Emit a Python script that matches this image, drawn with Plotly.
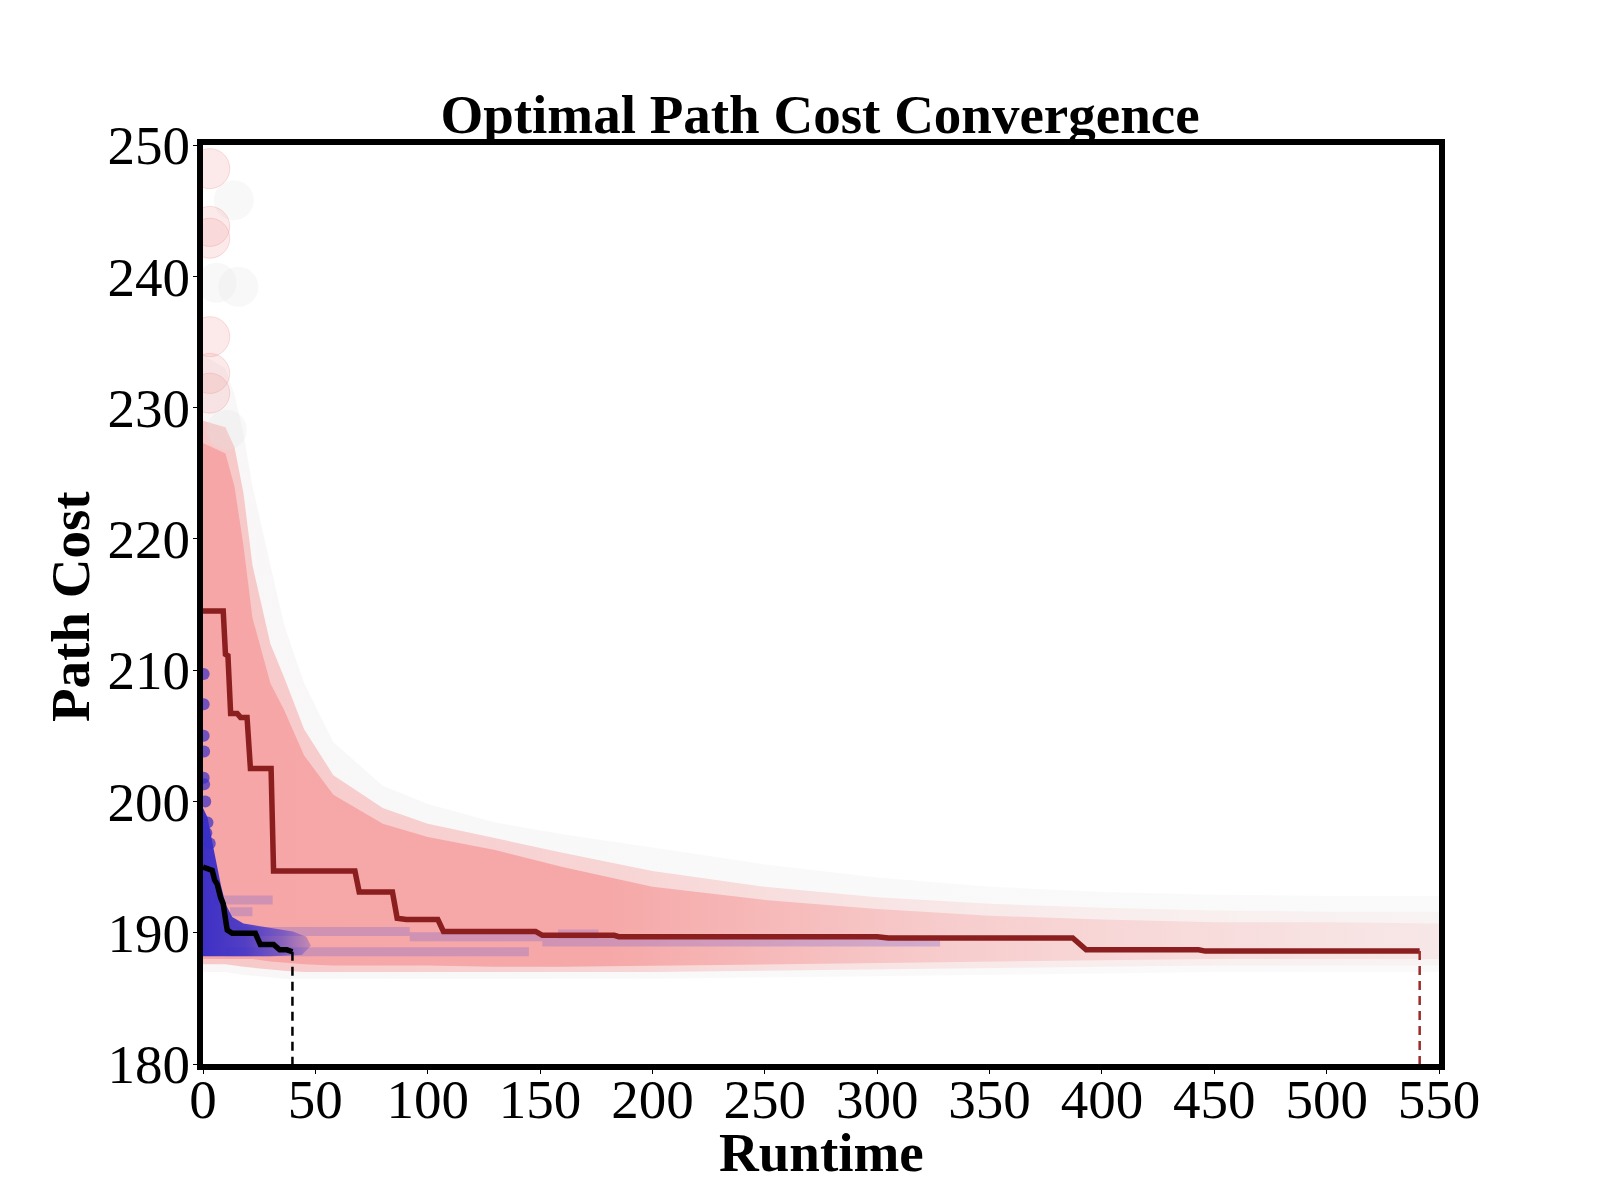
import plotly.graph_objects as go

# best-so-far path cost curves (runtime, cost)
red_best_t = [0, 9.0, 10.0, 11.1, 12.3, 15.2, 16.7, 19.6, 21.1, 30.3, 31.4, 67.6, 69.5, 84.3, 86.4, 90.5,
              104.5, 107.0, 148, 151, 183, 185, 300, 305, 387, 393, 443, 446, 541.4]
red_best_cost = [214.5, 214.5, 211.2, 211.1, 206.7, 206.7, 206.4, 206.4, 202.5, 202.5, 194.7, 194.7, 193.1,
                 193.1, 191.1, 191.0, 191.0, 190.1, 190.1, 189.8, 189.8, 189.7, 189.7, 189.6, 189.6, 188.7,
                 188.7, 188.6, 188.6]
black_best_t = [0, 2.2, 4.1, 5.2, 6.3, 7.8, 9.0, 10.3, 10.8, 13.0, 23.3, 25.5, 31.4, 34.1, 37.3, 39.8]
black_best_cost = [195.0, 194.9, 194.75, 194.0, 193.7, 192.7, 192.2, 190.7, 190.2, 189.95, 189.95, 189.1,
                   189.1, 188.7, 188.7, 188.55]

# envelope of the red sample cloud
cloud_t = [0, 10, 14, 18, 22, 30, 36, 45, 58, 80, 100, 130, 160, 200, 250, 300, 350, 400, 450, 500, 550]
core_hi = [227.3, 226.5, 224, 219.5, 214, 209, 207, 203.5, 200.5, 198.3, 197.3, 196.3, 195, 193.5, 192.5,
           191.8, 191.3, 191, 190.8, 190.8, 190.7]
core_lo = [188.0, 188.0, 188.0, 188.0, 188.0, 187.8, 187.7, 187.6, 187.5, 187.5, 187.5, 187.4, 187.4, 187.5,
           187.6, 187.7, 187.8, 187.9, 188.0, 188.0, 188.0]
mid_hi = [229, 228.5, 227, 223.5, 218, 212, 209.5, 205.5, 202, 199.5, 198.3, 197.2, 196.1, 194.7, 193.5, 192.7,
          192.2, 191.9, 191.7, 191.6, 191.6]
mid_lo = [187.6, 187.6, 187.5, 187.4, 187.3, 187.2, 187.1, 187.0, 187.0, 187.0, 187.0, 187.0, 187.0, 187.0,
          187.1, 187.2, 187.3, 187.4, 187.5, 187.5, 187.5]
halo_hi = [234, 233, 231, 228, 224, 218, 213.5, 209, 204.5, 201.2, 199.8, 198.4, 197.5, 196.5, 195.2, 194.2,
           193.5, 193.1, 192.9, 192.8, 192.8]
halo_lo = [187.0, 187.0, 186.9, 186.8, 186.7, 186.6, 186.5, 186.5, 186.5, 186.5, 186.5, 186.5, 186.5, 186.5,
           186.6, 186.7, 186.8, 186.9, 187.0, 187.0, 187.0]

# sparse early red samples
sparse_pink_t = [3, 3, 3, 3, 3, 3]
sparse_pink_c = [248.2, 243.8, 242.9, 235.4, 232.6, 231.1]
sparse_gray_t = [13.7, 15.7, 10.6, 6]
sparse_gray_c = [245.8, 239.2, 228.3, 239.5]

# blue sample cloud
blue_blob_t = [0, 2, 4, 6, 8, 10, 13, 18, 30, 40, 46, 48, 44, 30, 0]
blue_blob_c = [199.5, 198.8, 197.0, 195.2, 193.6, 192.2, 191.2, 190.7, 190.4, 190.1, 189.7, 189.0, 188.3,
               188.2, 188.2]
blue_dot_t = [0.3, 0.3, 0.3, 0.5, 0.3, 0.5, 1.0, 2.0, 1.5, 3.0]
blue_dot_c = [209.7, 207.4, 205.0, 203.8, 201.8, 201.3, 200.0, 198.4, 197.6, 196.8]
trail_cost = [192.5, 191.6, 190.1, 189.7, 189.9, 189.3, 188.55]
trail_start = [5, 12, 15, 92, 158, 151, 10]
trail_end = [31, 22, 92, 151, 176, 328, 145]

red_end = (541.4, 188.6)
black_end = (39.8, 188.55)

SERIF = 'Liberation Serif'
fig = go.Figure()


def band(t, hi, lo, scale):
    fig.add_trace(go.Scatter(
        x=t + t[::-1], y=hi + lo[::-1], mode='lines', fill='toself',
        line=dict(width=0), hoverinfo='skip', showlegend=False,
        fillgradient=dict(type='horizontal', colorscale=scale, start=0, stop=550),
    ))


band(cloud_t, halo_hi, halo_lo, [[0, 'rgba(240,236,236,0.45)'], [0.4, 'rgba(242,240,240,0.4)'],
                                 [1, 'rgba(244,244,244,0.45)']])
band(cloud_t, mid_hi, mid_lo, [[0, 'rgba(246,170,170,0.6)'], [0.35, 'rgba(246,178,178,0.5)'],
                               [0.7, 'rgba(246,205,205,0.3)'], [1, 'rgba(245,228,228,0.3)']])
band(cloud_t, core_hi, core_lo, [[0, 'rgba(246,166,166,1)'], [0.33, 'rgba(246,166,166,0.95)'],
                                 [0.6, 'rgba(246,182,182,0.55)'], [1, 'rgba(246,208,208,0.35)']])

fig.add_trace(go.Scatter(x=sparse_gray_t, y=sparse_gray_c, mode='markers', hoverinfo='skip', showlegend=False,
                         marker=dict(size=40, color='rgba(228,228,228,0.25)', line=dict(width=0))))
fig.add_trace(go.Scatter(x=sparse_pink_t, y=sparse_pink_c, mode='markers', hoverinfo='skip', showlegend=False,
                         marker=dict(size=40, color='rgba(240,150,150,0.2)',
                                     line=dict(width=1, color='rgba(235,120,120,0.25)'))))

# blue samples
for c, s, e in zip(trail_cost, trail_start, trail_end):
    fig.add_trace(go.Scatter(x=[s, e], y=[c, c], mode='lines', hoverinfo='skip', showlegend=False,
                             line=dict(width=9, color='rgba(120,100,210,0.3)')))
fig.add_trace(go.Scatter(
    x=blue_blob_t, y=blue_blob_c, mode='lines', fill='toself', line=dict(width=0),
    hoverinfo='skip', showlegend=False,
    fillgradient=dict(type='horizontal', start=0, stop=48,
                      colorscale=[[0, 'rgba(52,42,200,0.95)'], [0.4, 'rgba(55,45,200,0.85)'],
                                  [0.75, 'rgba(70,55,200,0.6)'], [1, 'rgba(100,80,200,0.35)']]),
))
fig.add_trace(go.Scatter(x=blue_dot_t, y=blue_dot_c, mode='markers', hoverinfo='skip', showlegend=False,
                         marker=dict(size=12, color='rgba(55,45,200,0.7)', line=dict(width=0))))

# best cost curves
fig.add_trace(go.Scatter(x=red_best_t, y=red_best_cost, mode='lines', showlegend=False,
                         line=dict(color='#8B1E1E', width=5.5)))
fig.add_trace(go.Scatter(x=[red_end[0], red_end[0]], y=[red_end[1], 180], mode='lines', showlegend=False,
                         line=dict(color='#9B2A2A', width=2.5, dash='9px,6px')))
fig.add_trace(go.Scatter(x=black_best_t, y=black_best_cost, mode='lines', showlegend=False,
                         line=dict(color='black', width=5.5)))
fig.add_trace(go.Scatter(x=[black_end[0], black_end[0]], y=[black_end[1], 180], mode='lines', showlegend=False,
                         line=dict(color='black', width=2.5, dash='9px,6px')))

axis_style = dict(showline=True, linewidth=6, linecolor='black', mirror=True, showgrid=False, zeroline=False,
                  ticks='outside', ticklen=4, tickwidth=1, tickcolor='black', tickangle=0,
                  tickfont=dict(family=SERIF, size=55, color='black'))

fig.update_xaxes(range=[0, 550], dtick=50, tick0=0, ticklabelstandoff=-22, **axis_style)
fig.update_yaxes(range=[180, 250], dtick=10, tick0=180, ticklabelstandoff=-8, **axis_style)

label_font = dict(family=SERIF, size=55, color='black', weight='bold')
fig.add_annotation(text='Runtime', xref='paper', yref='paper', x=0.5, y=-0.096, xanchor='center',
                   yanchor='middle', showarrow=False, font=label_font)
fig.add_annotation(text='Path Cost', xref='paper', yref='paper', x=-0.107, y=0.498, xanchor='center',
                   yanchor='middle', textangle=-90, showarrow=False, font=label_font)

fig.update_layout(
    width=1600, height=1200,
    plot_bgcolor='white', paper_bgcolor='white',
    margin=dict(l=195, r=169, t=137, b=144),
    title=dict(text='Optimal Path Cost Convergence', x=0.5075, xanchor='center', y=0.912, yanchor='middle',
               font=dict(family=SERIF, size=55, color='black', weight='bold')),
)

fig.write_html('out.html')
